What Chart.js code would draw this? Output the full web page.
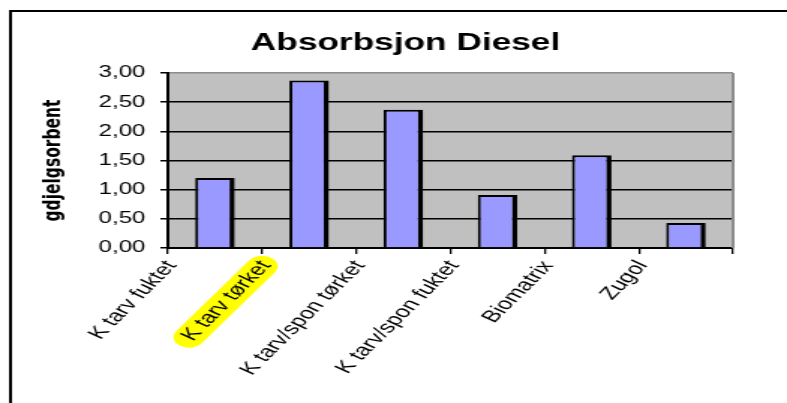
<!DOCTYPE html>
<html>
<head>
<meta charset="utf-8">
<title>Absorbsjon Diesel</title>
<script src="https://cdn.jsdelivr.net/npm/chart.js@4.4.0/dist/chart.umd.min.js"></script>
<style>
    html, body { margin: 0; padding: 0; background: #fff; overflow: hidden; }
    /* the original picture is stretched sideways, so the chart is drawn narrow and widened */
    #wrap { width: 525px; height: 403px; transform: scaleX(1.499); transform-origin: 0 0; }
</style>
</head>
<body>
<div id="wrap"><canvas id="absorbChart" width="525" height="403"></canvas></div>
<script>
// ─── DATA ───
const categories = ['K tarv fuktet', 'K tarv tørket', 'K tarv/spon tørket', 'K tarv/spon fuktet', 'Biomatrix', 'Zugol'];
const absorption = [1.20, 2.87, 2.37, 0.91, 1.59, 0.43];
const yTicks = [0, 0.5, 1.0, 1.5, 2.0, 2.5, 3.0];
const chartTitle = 'Absorbsjon Diesel';
const yTitle = 'gdjelgsorbent';
const markedCategory = 1;

const FONT = "'Liberation Sans', Arial, sans-serif";
const LABEL_OFFSET = -29;
const LABEL_ROTATION = 55.5;
const X_TICK_LEN = 6;
const X_TICK_PAD = 3;
const X_FONT_SIZE = 17;

// ─── PLOT BACKGROUND, FRAME, TITLE, HIGHLIGHT ───
const decorations = {
    id: 'decorations',
    beforeDraw(chart) {
        const ctx = chart.ctx;
        const a = chart.chartArea;
        ctx.save();
        ctx.fillStyle = '#c0c0c0';
        ctx.fillRect(a.left, a.top, a.right - a.left, a.bottom - a.top);

        // outer frame (left + top only, the rest is cut off)
        ctx.fillStyle = '#000';
        ctx.fillRect(6, 10, 2, 393);
        ctx.fillRect(6, 10, 519, 2);

        // yellow marker behind one category label
        const xs = chart.scales.x;
        const rot = -xs.labelRotation * Math.PI / 180;
        const lh = X_FONT_SIZE * 1.2;
        ctx.font = X_FONT_SIZE + 'px ' + FONT;
        const w = ctx.measureText(categories[markedCategory]).width;
        const px = xs.getPixelForTick(markedCategory) + LABEL_OFFSET + lh / 2 * Math.sin(rot);
        const py = xs.top + X_TICK_LEN + X_TICK_PAD;
        ctx.translate(px, py);
        ctx.rotate(rot);
        ctx.fillStyle = '#ffff00';
        ctx.beginPath();
        ctx.roundRect(-w - 8, lh / 2 - 10.5, w + 14, 21, 10);
        ctx.fill();
        ctx.restore();
    },
    afterDraw(chart) {
        const ctx = chart.ctx;
        const a = chart.chartArea;
        ctx.save();
        ctx.strokeStyle = '#8c8c8c';
        ctx.lineWidth = 2;
        ctx.beginPath();
        ctx.moveTo(a.right, a.top);
        ctx.lineTo(a.right, a.bottom);
        ctx.stroke();

        ctx.fillStyle = '#000';
        ctx.font = 'bold 23.5px ' + FONT;
        ctx.textAlign = 'center';
        ctx.textBaseline = 'alphabetic';
        ctx.fillText(chartTitle, 270.5, 50);
        ctx.restore();
    }
};

// ─── CREATE THE CHART ───
const ctx = document.getElementById('absorbChart').getContext('2d');
const absorbChart = new Chart(ctx, {
    type: 'bar',
    data: {
        labels: categories,
        datasets: [{
            label: chartTitle,
            data: absorption,
            backgroundColor: '#9999ff',
            borderColor: '#000',
            borderWidth: { top: 2, left: 2, right: 3.5, bottom: 0 },
            barPercentage: 0.42,
            categoryPercentage: 1
        }]
    },
    options: {
        responsive: false,
        animation: false,
        layout: { padding: { top: 73, left: 27, right: 36, bottom: 0 } },
        plugins: {
            legend: { display: false },
            title: { display: false },
            tooltip: { enabled: false }
        },
        scales: {
            x: {
                grid: { display: true, drawOnChartArea: false, offset: true, tickLength: X_TICK_LEN, color: '#000', lineWidth: 1.3 },
                border: { color: '#000', width: 2 },
                ticks: {
                    autoSkip: false,
                    minRotation: LABEL_ROTATION,
                    maxRotation: LABEL_ROTATION,
                    labelOffset: LABEL_OFFSET,
                    padding: X_TICK_PAD,
                    color: '#000',
                    font: { family: FONT, size: X_FONT_SIZE }
                },
                afterFit: s => { s.height = 155; }
            },
            y: {
                min: yTicks[0],
                max: yTicks[yTicks.length - 1],
                afterBuildTicks: s => { s.ticks = yTicks.map(v => ({ value: v })); },
                grid: {
                    color: c => (c.tick && c.tick.value === 3 ? '#8c8c8c' : '#000'),
                    tickColor: '#000',
                    lineWidth: 1.5,
                    tickLength: 5
                },
                border: { color: '#000', width: 2 },
                ticks: {
                    padding: 10,
                    color: '#000',
                    font: { family: FONT, size: 16 },
                    callback: v => Number(v).toFixed(2).replace('.', ',')
                },
                title: {
                    display: true,
                    text: yTitle,
                    color: '#000',
                    padding: 0,
                    font: { family: "'DejaVu Sans', sans-serif", size: 15.5, weight: 'bold' }
                },
                afterFit: s => { s.width = 85; }
            }
        }
    },
    plugins: [decorations]
});
</script>
</body>
</html>
